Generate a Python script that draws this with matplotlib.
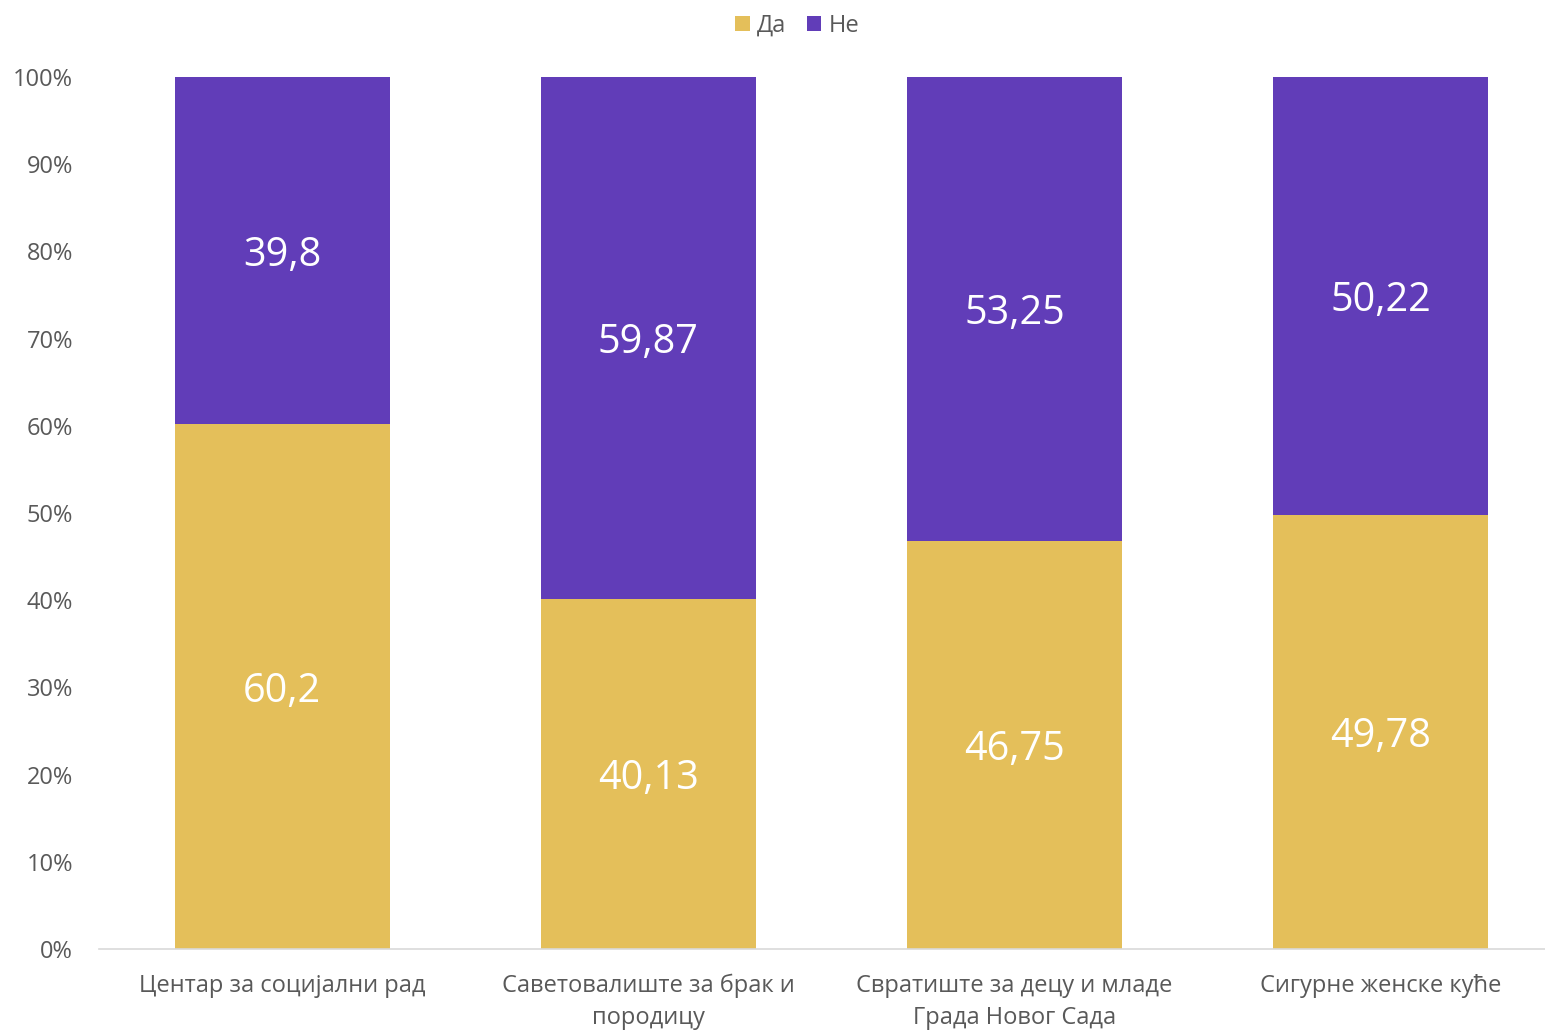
import numpy as np
import matplotlib.pyplot as plt

plt.rcParams['font.family'] = ['Open Sans', 'DejaVu Sans']

# Подаци
kategorije = ['Центар за социјални рад', 'Саветовалиште за брак и\nпородицу',
              'Свратиште за децу и младе\nГрада Новог Сада', 'Сигурне женске куће']
da = [60.2, 40.13, 46.75, 49.78]
ne = [39.8, 59.87, 53.25, 50.22]
oznake_da = ['60,2', '40,13', '46,75', '49,78']
oznake_ne = ['39,8', '59,87', '53,25', '50,22']

boja_da = '#E4BF5A'
boja_ne = '#613DB8'
siva = '#595959'

fig = plt.figure(figsize=(15.45, 10.34), dpi=100)
ax = fig.add_axes([0.064, 0.0822, 0.936, 0.8433])

x = np.arange(len(kategorije))
sirina = 0.587
b1 = ax.bar(x, da, sirina, color=boja_da, label='Да')
b2 = ax.bar(x, ne, sirina, bottom=da, color=boja_ne, label='Не')

for i in range(len(x)):
    ax.text(x[i], da[i] / 2, oznake_da[i], ha='center', va='center_baseline',
            color='white', fontsize=28.5)
    ax.text(x[i], da[i] + ne[i] / 2, oznake_ne[i], ha='center', va='center_baseline',
            color='white', fontsize=28.5)

ax.set_xlim(-0.5, 3.448)
ax.set_ylim(0, 100)
ax.set_yticks(np.arange(0, 101, 10))
ax.set_yticklabels([f'{v}%' for v in range(0, 101, 10)])
ax.set_xticks(x)
ax.set_xticklabels(kategorije, linespacing=1.45)

for s in ['top', 'right', 'left']:
    ax.spines[s].set_visible(False)
ax.spines['bottom'].set_color('#D9D9D9')
ax.spines['bottom'].set_linewidth(1.2)
ax.tick_params(axis='both', length=0, colors=siva, labelsize=17)
ax.tick_params(axis='y', pad=18.5)
ax.tick_params(axis='x', pad=18)

fig.legend(handles=[b1, b2], loc='center', bbox_to_anchor=(0.516, 0.975), ncol=2,
           frameon=False, fontsize=17, labelcolor=siva, handlelength=0.6,
           handleheight=0.6, handletextpad=0.3, columnspacing=0.9)

fig.savefig('out.png', dpi=100)
